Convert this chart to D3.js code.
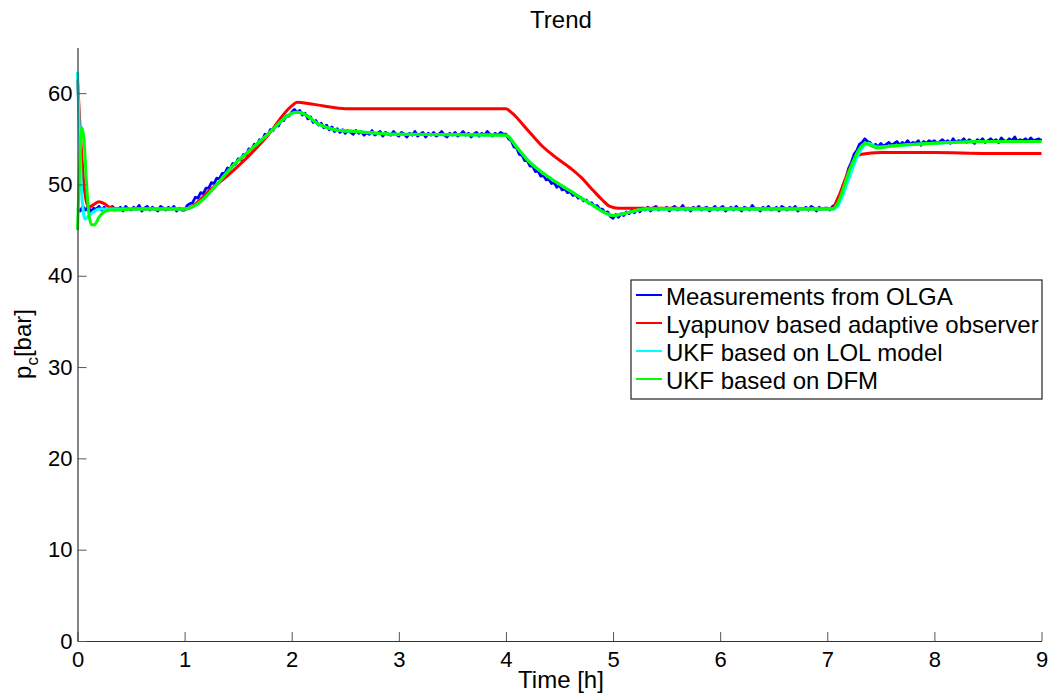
<!DOCTYPE html>
<html>
<head>
<meta charset="utf-8">
<script src="https://cdn.jsdelivr.net/npm/d3@7"></script>
<style>
  html, body { margin: 0; padding: 0; background: #fff; }
  svg { display: block; font-family: "Liberation Sans", Arial, Helvetica, sans-serif; }
</style>
</head>
<body>
<svg id="chart" width="1054" height="696"></svg>
<script>
// Measured riser pressure from OLGA, sampled every 0.025 h from 0 to 9 h
const measStep = 0.025;
const measValues = [
  47.4, 47.1, 47.6, 47.2, 47.5, 47.0, 47.4, 47.3, 47.6, 47.2, 47.5, 47.1, 47.4, 47.6, 47.2, 47.3, 47.5, 47.1, 47.6, 47.3,
  47.2, 47.5, 47.3, 47.7, 47.1, 47.4, 47.6, 47.2, 47.5, 47.3, 47.1, 47.6, 47.4, 47.2, 47.5, 47.3, 47.6, 47.1, 47.4, 47.2,
  47.2, 47.7, 47.9, 48.0, 48.6, 48.5, 49.1, 49.0, 49.6, 49.6, 50.2, 50.1, 50.7, 50.6, 51.2, 51.2, 51.8, 51.7, 52.3, 52.2,
  52.8, 52.7, 53.3, 53.2, 53.9, 53.8, 54.4, 54.3, 54.9, 54.8, 55.5, 55.3, 56.0, 55.9, 56.5, 56.4, 57.0, 57.0, 57.5, 57.5,
  57.9, 58.2, 57.9, 58.1, 57.6, 57.8, 57.2, 57.4, 56.8, 57.0, 56.5, 56.7, 56.2, 56.5, 56.0, 56.3, 55.8, 56.1, 55.7, 56.0,
  55.6, 55.9, 55.7, 55.5, 55.9, 55.6, 55.8, 55.4, 55.7, 55.5, 55.9, 55.4, 55.6, 55.8, 55.3, 55.7, 55.5, 55.4, 55.8, 55.5,
  55.3, 55.7, 55.5, 55.2, 55.6, 55.4, 55.8, 55.3, 55.5, 55.7, 55.2, 55.6, 55.4, 55.7, 55.3, 55.5, 55.8, 55.4, 55.2, 55.6,
  55.4, 55.7, 55.3, 55.5, 55.8, 55.4, 55.6, 55.2, 55.5, 55.7, 55.3, 55.6, 55.4, 55.8, 55.5, 55.3, 55.6, 55.4, 55.7, 55.5,
  55.5, 55.0, 54.8, 54.1, 54.0, 53.3, 53.2, 52.6, 52.6, 52.0, 52.0, 51.4, 51.5, 50.9, 51.0, 50.5, 50.6, 50.1, 50.2, 49.7,
  49.9, 49.4, 49.5, 49.1, 49.2, 48.8, 48.9, 48.5, 48.6, 48.2, 48.3, 47.9, 48.0, 47.6, 47.7, 47.3, 47.3, 46.9, 47.0, 46.5,
  46.3, 46.7, 46.4, 46.8, 46.6, 47.0, 46.8, 47.2, 46.9, 47.3, 47.0, 47.4, 47.2, 47.5, 47.1, 47.4, 47.6, 47.2, 47.4, 47.3,
  47.5, 47.1, 47.4, 47.6, 47.2, 47.3, 47.7, 47.2, 47.4, 47.1, 47.5, 47.3, 47.6, 47.2, 47.4, 47.5, 47.1, 47.3, 47.6, 47.2,
  47.4, 47.6, 47.1, 47.3, 47.5, 47.2, 47.6, 47.3, 47.1, 47.5, 47.4, 47.2, 47.7, 47.3, 47.4, 47.1, 47.5, 47.3, 47.6, 47.2,
  47.3, 47.5, 47.1, 47.6, 47.4, 47.2, 47.5, 47.3, 47.6, 47.1, 47.4, 47.3, 47.5, 47.2, 47.6, 47.4, 47.1, 47.5, 47.3, 47.4,
  47.4, 47.2, 47.6, 47.8, 48.5, 49.0, 50.0, 50.7, 51.8, 52.4, 53.3, 53.7, 54.4, 54.6, 55.0, 54.7, 54.6, 54.2, 54.4, 54.1,
  54.5, 54.2, 54.4, 54.6, 54.3, 54.5, 54.7, 54.3, 54.6, 54.4, 54.8, 54.4, 54.6, 54.5, 54.8, 54.3, 54.7, 54.5, 54.8, 54.6,
  54.8, 54.5, 54.7, 54.9, 54.6, 54.8, 54.5, 55.0, 54.6, 54.8, 54.7, 55.0, 54.6, 54.9, 54.7, 54.5, 54.9, 54.7, 55.0, 54.6,
  54.8, 55.0, 54.7, 54.9, 54.6, 55.1, 54.8, 54.7, 55.0, 54.8, 55.2, 54.7, 54.9, 54.8, 55.0, 54.7, 55.1, 54.8, 54.9, 55.0,
  54.8
];

// Lyapunov based adaptive observer
const lyapTimes  = [0, 0.03, 0.06, 0.1, 0.15, 0.2, 0.25, 0.3, 0.4, 1.0, 1.25, 1.5, 1.75, 2.0, 2.05, 2.1, 2.3, 2.5, 3.0, 3.5, 4.0, 4.05, 4.2, 4.33, 4.45, 4.6, 4.7, 4.81, 4.9, 4.97, 5.05, 5.5, 7.0, 7.05, 7.1, 7.2, 7.27, 7.32, 7.5, 8.0, 8.5, 9.0];
const lyapValues = [61.5, 55.0, 50.0, 47.5, 47.8, 48.1, 47.9, 47.5, 47.3, 47.3, 49.5, 52.0, 55.0, 58.6, 59.0, 58.95, 58.6, 58.3, 58.3, 58.3, 58.3, 57.9, 56.0, 54.3, 53.1, 51.8, 50.8, 49.4, 48.3, 47.6, 47.4, 47.4, 47.3, 47.4, 48.5, 51.5, 53.0, 53.3, 53.5, 53.5, 53.4, 53.4];

// UKF based on LOL model
const lolTimes  = [0, 0.02, 0.04, 0.07, 0.1, 0.15, 0.2, 0.5, 1.0, 1.5, 1.75, 2.05, 2.1, 2.25, 2.4, 2.6, 3.0, 4.0, 4.1, 4.2, 4.4, 4.6, 4.8, 5.0, 5.1, 5.3, 6.0, 7.05, 7.1, 7.2, 7.3, 7.38, 7.47, 7.6, 8.0, 8.5, 9.0];
const lolValues = [62.3, 55.0, 49.0, 46.2, 46.5, 47.0, 47.3, 47.3, 47.3, 52.6, 55.2, 57.9, 57.8, 56.6, 56.0, 55.8, 55.5, 55.4, 54.1, 52.7, 50.8, 49.3, 47.8, 46.6, 46.8, 47.3, 47.3, 47.3, 47.7, 50.6, 53.5, 54.5, 54.1, 54.2, 54.5, 54.7, 54.7];

// UKF based on DFM
const dfmTimes  = [0, 0.02, 0.04, 0.06, 0.08, 0.1, 0.13, 0.16, 0.2, 0.25, 0.3, 0.4, 0.5, 1.0, 1.5, 1.75, 2.05, 2.1, 2.25, 2.4, 2.6, 3.0, 4.0, 4.1, 4.2, 4.4, 4.6, 4.8, 5.0, 5.1, 5.3, 6.0, 7.05, 7.1, 7.2, 7.3, 7.36, 7.4, 7.47, 7.6, 8.0, 8.5, 9.0];
const dfmValues = [45.0, 52.0, 56.2, 55.0, 51.0, 47.5, 45.6, 45.6, 46.4, 47.0, 47.2, 47.2, 47.3, 47.3, 52.6, 55.2, 57.9, 57.8, 56.6, 56.0, 55.8, 55.5, 55.4, 54.1, 52.7, 50.8, 49.3, 47.8, 46.6, 46.8, 47.3, 47.3, 47.3, 48.0, 51.3, 53.9, 54.5, 54.3, 54.0, 54.2, 54.5, 54.7, 54.7];

const seriesNames  = ["Measurements from OLGA", "Lyapunov based adaptive observer", "UKF based on LOL model", "UKF based on DFM"];
const seriesColors = ["#0000ff", "#ff0000", "#00ffff", "#00ff00"];

const xTicks = [0, 1, 2, 3, 4, 5, 6, 7, 8, 9];
const yTicks = [0, 10, 20, 30, 40, 50, 60];

const svg = d3.select("#chart");
const x = d3.scaleLinear().domain([0, 9]).range([77.5, 1041.5]);
const y = d3.scaleLinear().domain([0, 65]).range([641, 47.5]);

const toPoints = (ts, vs) => ts.map((t, i) => [t, vs[i]]);
const measPoints = measValues.map((v, i) => [i * measStep, v]);

const series = [
  { pts: measPoints, curve: d3.curveLinear, width: 2.8 },
  { pts: toPoints(lyapTimes, lyapValues), curve: d3.curveMonotoneX, width: 3 },
  { pts: toPoints(lolTimes, lolValues), curve: d3.curveMonotoneX, width: 3 },
  { pts: toPoints(dfmTimes, dfmValues), curve: d3.curveMonotoneX, width: 3 }
];

const plot = svg.append("g");
series.forEach((s, i) => {
  const line = d3.line().x(d => x(d[0])).y(d => y(d[1])).curve(s.curve);
  plot.append("path")
    .datum(s.pts)
    .attr("fill", "none")
    .attr("stroke", seriesColors[i])
    .attr("stroke-width", s.width)
    .attr("stroke-linejoin", "round")
    .attr("d", line);
});

// Axes with inward ticks
const xAxis = svg.append("g")
  .attr("transform", `translate(0,${y(0)})`)
  .call(d3.axisBottom(x).tickValues(xTicks).tickFormat(d3.format("d")).tickSizeInner(-9).tickSizeOuter(0).tickPadding(10));
const yAxis = svg.append("g")
  .attr("transform", `translate(${x(0)},0)`)
  .call(d3.axisLeft(y).tickValues(yTicks).tickFormat(d3.format("d")).tickSizeInner(-9).tickSizeOuter(0).tickPadding(5));

[xAxis, yAxis].forEach(g => {
  g.select(".domain").attr("stroke", "#333").attr("stroke-width", 1.2);
  g.selectAll(".tick line").attr("stroke", "#555").attr("stroke-width", 1);
  g.selectAll(".tick text").attr("fill", "#000").style("font-size", "22px")
    .style("font-family", '"Liberation Sans", Arial, sans-serif');
});

// Title and axis labels
svg.append("text").attr("x", 561).attr("y", 28).attr("text-anchor", "middle")
  .style("font-size", "24px").text("Trend");
svg.append("text").attr("x", 561).attr("y", 688).attr("text-anchor", "middle")
  .style("font-size", "24px").text("Time [h]");
const yLab = svg.append("text")
  .attr("transform", "translate(31,344) rotate(-90)")
  .attr("text-anchor", "middle")
  .style("font-size", "24px");
yLab.append("tspan").text("p");
yLab.append("tspan").attr("dy", 7).style("font-size", "17px").text("c");
yLab.append("tspan").attr("dy", -7).text("[bar]");

// Legend
const legend = svg.append("g");
legend.append("rect")
  .attr("x", 631).attr("y", 280).attr("width", 411).attr("height", 119)
  .attr("fill", "#fff").attr("stroke", "#222").attr("stroke-width", 1.2);
seriesNames.forEach((name, i) => {
  const cy = 295 + i * 28;
  legend.append("line")
    .attr("x1", 636).attr("x2", 662).attr("y1", cy).attr("y2", cy)
    .attr("stroke", seriesColors[i]).attr("stroke-width", 2);
  legend.append("text")
    .attr("x", 666).attr("y", cy + 10)
    .style("font-size", "24px").attr("fill", "#000")
    .text(name);
});
</script>
</body>
</html>
